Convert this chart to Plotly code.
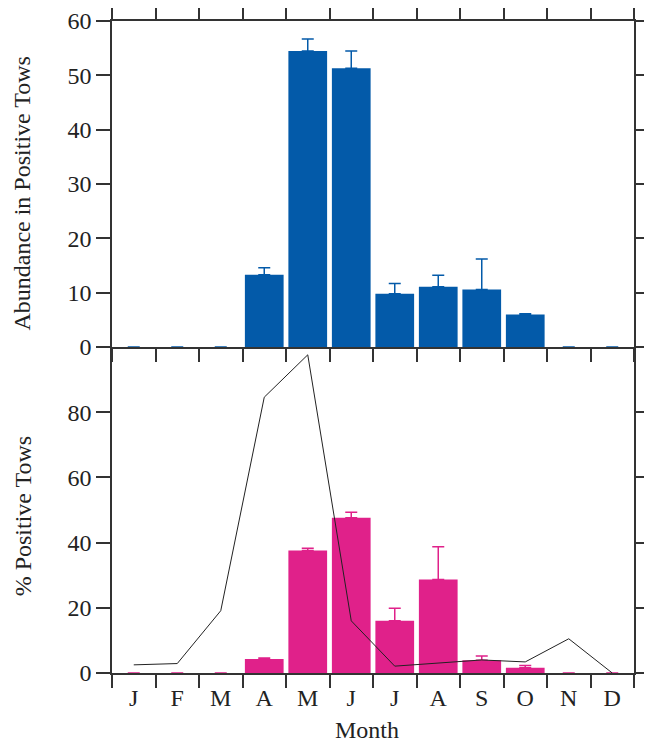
import plotly.graph_objects as go

months = ["J", "F", "M", "A", "M", "J", "J", "A", "S", "O", "N", "D"]
abundance = [0, 0, 0, 13.3, 54.5, 51.3, 9.8, 11.1, 10.6, 6.0, 0, 0]
abundance_err = [0, 0, 0, 1.3, 2.2, 3.2, 1.9, 2.1, 5.6, 0.1, 0, 0]
pct_positive = [0, 0, 0, 4.3, 37.6, 47.6, 16.0, 28.7, 3.9, 1.6, 0, 0]
pct_positive_err = [0, 0, 0, 0.3, 0.7, 1.7, 3.9, 10.0, 1.3, 0.7, 0, 0]
line_values = [2.5, 2.9, 19.1, 84.6, 97.6, 16.0, 2.1, 3.1, 4.0, 3.4, 10.5, 0.0]

x_idx = list(range(len(months)))
boundaries = [i - 0.5 for i in range(len(months) + 1)]

BLUE = "#035AA9"
PINK = "#E0218A"
AX = "#333333"
FONT = "Liberation Serif"

fig = go.Figure()
fig.add_trace(go.Bar(
    x=x_idx, y=abundance, marker=dict(color=BLUE, line=dict(width=0)),
    error_y=dict(type="data", symmetric=False, array=abundance_err,
                 arrayminus=[0] * 12, color=BLUE, thickness=1.5, width=6),
    xaxis="x", yaxis="y", showlegend=False))
fig.add_trace(go.Bar(
    x=x_idx, y=pct_positive, marker=dict(color=PINK, line=dict(width=0)),
    error_y=dict(type="data", symmetric=False, array=pct_positive_err,
                 arrayminus=[0] * 12, color=PINK, thickness=1.5, width=6),
    xaxis="x2", yaxis="y2", showlegend=False))
fig.add_trace(go.Scatter(
    x=x_idx, y=line_values, mode="lines", line=dict(color="#222222", width=1),
    xaxis="x3", yaxis="y2", showlegend=False))

common_x = dict(range=[-0.5, 11.5], showline=True, linecolor=AX, linewidth=1.5,
                showgrid=False, zeroline=False, tickmode="array", automargin=False,
                tickvals=boundaries, ticktext=[""] * len(boundaries),
                ticks="outside", ticklen=13, tickwidth=1.5, tickcolor=AX)
common_y = dict(showline=True, linecolor=AX, linewidth=1.5, showgrid=False,
                zeroline=False, ticks="outside", ticklen=14, tickwidth=1.5,
                tickcolor=AX, mirror="ticks", automargin=False,
                tickfont=dict(family=FONT, size=24, color="#222"))

fig.update_layout(
    width=644, height=736,
    margin=dict(l=104, r=18, t=13, b=71),
    plot_bgcolor="white", paper_bgcolor="white",
    bargap=0.11,
    font=dict(family=FONT, size=24, color="#222"),
    xaxis=dict(domain=[0, 1], anchor="y", mirror="ticks", **common_x),
    yaxis=dict(domain=[0.5, 1], range=[0, 60], tickvals=[0, 10, 20, 30, 40, 50, 60], **common_y),
    xaxis2=dict(domain=[0, 1], anchor="y2", mirror=False, **common_x),
    yaxis2=dict(domain=[0, 0.5], range=[0, 100], tickvals=[0, 20, 40, 60, 80, 100],
                ticktext=["0", "20", "40", "60", "80", ""], **common_y),
    xaxis3=dict(overlaying="x2", anchor="y2", range=[-0.5, 11.5], side="bottom",
                showline=False, showgrid=False, zeroline=False, tickmode="array",
                automargin=False,
                tickvals=x_idx, ticktext=months, ticks="outside", ticklen=3,
                tickcolor="rgba(0,0,0,0)",
                tickfont=dict(family=FONT, size=24, color="#222")),
    annotations=[
        dict(text="Abundance in Positive Tows", textangle=-90, xref="paper", yref="paper",
             x=-0.1715, y=0.736, xanchor="center", yanchor="middle", showarrow=False,
             font=dict(family=FONT, size=24, color="#222")),
        dict(text="% Positive Tows", textangle=-90, xref="paper", yref="paper",
             x=-0.1715, y=0.241, xanchor="center", yanchor="middle", showarrow=False,
             font=dict(family=FONT, size=24, color="#222")),
        dict(text="Month", xref="paper", yref="paper", x=0.4885, y=-0.088,
             xanchor="center", yanchor="middle", showarrow=False,
             font=dict(family=FONT, size=24, color="#222")),
    ],
)

fig.write_html("out.html")
